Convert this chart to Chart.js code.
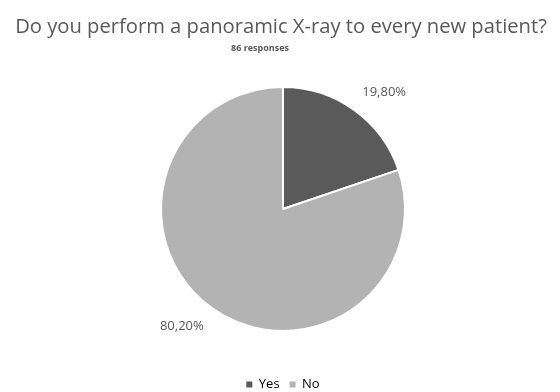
<!DOCTYPE html>
<html>
<head>
<meta charset="utf-8">
<script src="https://cdn.jsdelivr.net/npm/chart.js@4"></script>
<style>
  html, body { margin: 0; padding: 0; background: #ffffff; }
  #wrap { width: 560px; height: 392px; }
</style>
</head>
<body>
<div id="wrap"><canvas id="c" width="560" height="392"></canvas></div>
<script>
const categories = ['Yes', 'No'];
const shares = [19.80, 80.20];
const sliceColors = ['#5a5a5a', '#b3b3b3'];
const titleText = 'Do you perform a panoramic X-ray to every new patient?';
const subtitleText = '86 responses';

const FONT = '"Open Sans", "Liberation Sans", sans-serif';
const TEXT = '#595959';

// Heading and response count above the pie
const headingPlugin = {
  id: 'heading',
  afterDraw(chart) {
    const ctx = chart.ctx;
    ctx.save();
    ctx.fillStyle = TEXT;
    ctx.textAlign = 'center';
    ctx.textBaseline = 'middle';
    ctx.font = '20.2px ' + FONT;
    ctx.fillText(titleText, 281, 27);
    ctx.font = 'bold 9px ' + FONT;
    ctx.fillText(subtitleText, 260, 48);
    ctx.restore();
  }
};

// Percentage labels placed just outside each slice's outer edge
const sliceLabelPlugin = {
  id: 'sliceLabels',
  afterDatasetsDraw(chart) {
    const ctx = chart.ctx;
    const meta = chart.getDatasetMeta(0);
    ctx.save();
    ctx.fillStyle = TEXT;
    ctx.font = '13px ' + FONT;
    meta.data.forEach((arc, i) => {
      const p = arc.getProps(['x', 'y', 'startAngle', 'endAngle', 'outerRadius'], true);
      const mid = (p.startAngle + p.endAngle) / 2;
      const cx = Math.cos(mid), sy = Math.sin(mid);
      const r = p.outerRadius + 14;
      const ax = p.x + cx * r, ay = p.y + sy * r;
      ctx.textAlign = cx >= 0 ? 'left' : 'right';
      ctx.textBaseline = sy >= 0 ? 'top' : 'bottom';
      const txt = shares[i].toFixed(2).replace('.', ',') + '%';
      ctx.fillText(txt, ax, ay);
    });
    ctx.restore();
  }
};

new Chart(document.getElementById('c'), {
  type: 'pie',
  data: {
    labels: categories,
    datasets: [{
      data: shares,
      backgroundColor: sliceColors,
      borderColor: '#ffffff',
      borderWidth: 2,
      radius: 122
    }]
  },
  options: {
    responsive: false,
    animation: false,
    layout: { padding: { top: 50, left: 6, right: 0, bottom: -9 } },
    plugins: {
      title: { display: false },
      tooltip: { enabled: false },
      legend: {
        position: 'bottom',
        labels: {
          boxWidth: 6,
          boxHeight: 6,
          padding: 10,
          color: '#666666',
          font: { family: FONT, size: 13 },
          generateLabels(chart) {
            return categories.map((name, i) => ({
              text: name,
              fillStyle: sliceColors[i],
              strokeStyle: sliceColors[i],
              lineWidth: 0,
              hidden: false,
              index: i
            }));
          }
        }
      }
    }
  },
  plugins: [headingPlugin, sliceLabelPlugin]
});
</script>
</body>
</html>
